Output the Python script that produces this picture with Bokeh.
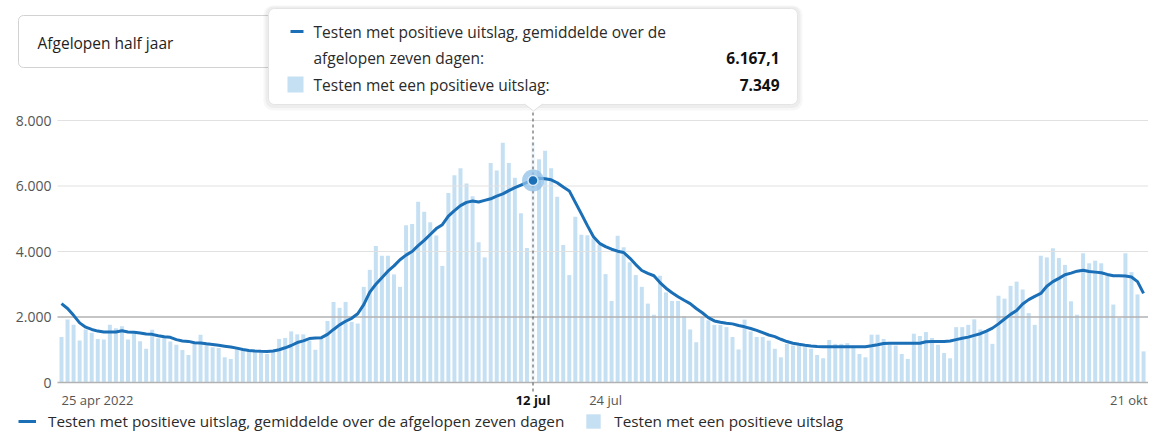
import pandas as pd
from bokeh.plotting import figure
from bokeh.models import Range1d, ColumnDataSource, Legend, LegendItem
from bokeh.core.properties import value
from bokeh.embed import file_html
from bokeh.resources import INLINE

# ---------------- data ----------------
start_date = "2022-04-25"

daily_positive = [
    1390, 1920, 1760, 1280, 1620, 1520, 1330, 1310, 1760, 1660,
    1720, 1310, 1490, 1260, 1030, 1610, 1350, 1390, 1250, 1150,
    990, 840, 1180, 1460, 1180, 1080, 1050, 770, 720, 1080,
    980, 960, 950, 920, 870, 980, 1330, 1360, 1560, 1470,
    1470, 1280, 1000, 1330, 1880, 2460, 2280, 2460, 1850, 1800,
    2920, 3440, 4170, 3870, 3870, 3300, 2920, 4800, 4840, 5520,
    5210, 4890, 4490, 3560, 5790, 6330, 6540, 6080, 5690, 4280,
    3820, 6700, 6470, 7320, 6700, 6250, 5170, 4110, 7349, 6820,
    7080, 6540, 5670, 4200, 3280, 5060, 4510, 4500, 4400, 4200,
    3310, 2490, 4480, 4130, 3670, 3280, 2920, 2410, 2070, 3260,
    2750, 2490, 2490, 2020, 1620, 1230, 2000, 1900, 1760, 1760,
    1690, 1390, 1010, 1920, 1560, 1390, 1390, 1280, 1030, 770,
    1180, 1130, 1130, 1080, 1030, 840, 740, 1300, 1180, 1180,
    1200, 1060, 870, 770, 1460, 1460, 1330, 1150, 1130, 870,
    720, 1490, 1420, 1540, 1360, 1150, 900, 740, 1690, 1690,
    1760, 1930, 1620, 1540, 1180, 2650, 2560, 2950, 3080, 2840,
    2120, 1760, 3870, 3820, 4100, 3800, 3590, 2480, 2070, 3950,
    3640, 3720, 3640, 3300, 2380, 1970, 3950, 3370, 2690, 950,
]

avg_7day = [
    2410, 2260, 2050, 1820, 1690, 1620, 1570, 1545, 1540, 1545,
    1580, 1545, 1535, 1510, 1480, 1470, 1430, 1395, 1380, 1310,
    1265, 1255, 1215, 1205, 1180, 1160, 1135, 1110, 1085, 1050,
    1010, 980, 965, 955, 950, 960, 1000, 1060, 1130, 1220,
    1270, 1340, 1360, 1370, 1470, 1620, 1760, 1870, 1960, 2100,
    2380, 2760, 3000, 3200, 3400, 3560, 3750, 3890, 4000, 4180,
    4340, 4520, 4700, 4820, 5080, 5250, 5400, 5500, 5540, 5510,
    5560, 5610, 5690, 5760, 5860, 5950, 6030, 6110, 6167.1, 6240,
    6220, 6190, 6100, 5970, 5850, 5500, 5150, 4790, 4450, 4250,
    4150, 4070, 4010, 3970, 3800, 3600, 3420, 3330, 3260, 3050,
    2880, 2740, 2620, 2510, 2410, 2260, 2130, 1980, 1880, 1840,
    1810, 1790, 1740, 1700, 1650, 1590, 1520, 1450, 1400, 1320,
    1250, 1200, 1165, 1135, 1115, 1100, 1095, 1095, 1095, 1095,
    1095, 1095, 1095, 1095, 1120, 1150, 1190, 1200, 1200, 1200,
    1200, 1200, 1200, 1245, 1250, 1250, 1250, 1265, 1310, 1350,
    1385, 1440, 1490, 1570, 1660, 1790, 1940, 2080, 2200, 2400,
    2530, 2630, 2720, 2940, 3080, 3180, 3290, 3340, 3400, 3430,
    3390, 3370, 3350, 3300, 3260, 3260, 3250, 3220, 3080, 2720,
]

series_names = [
    "Testen met positieve uitslag, gemiddelde over de afgelopen zeven dagen",
    "Testen met een positieve uitslag",
]
y_ticks = [0, 2000, 4000, 6000, 8000]
y_tick_labels = ["0", "2.000", "4.000", "6.000", "8.000"]
x_tick_dates = ["2022-04-25", "2022-07-12", "2022-07-24", "2022-10-21"]
x_tick_labels = ["25 apr 2022", "12 jul", "24 jul", "21 okt"]
hover_date = "2022-07-12"
period_label = "Afgelopen half jaar"
tooltip_avg_lines = ["Testen met positieve uitslag, gemiddelde over de", "afgelopen zeven dagen:"]
tooltip_bar_line = "Testen met een positieve uitslag:"

# ---------------- derived ----------------
t0 = pd.Timestamp(start_date)
dates = pd.date_range(start_date, periods=len(daily_positive), freq="D")
day = list(range(len(dates)))
tick_days = [(pd.Timestamp(d) - t0).days for d in x_tick_dates]
hi = (pd.Timestamp(hover_date) - t0).days


def nl(v, dec=0):
    s = f"{v:,.{dec}f}"
    return s.replace(",", "X").replace(".", ",").replace("X", ".")


# ---------------- styles / geometry ----------------
W, H = 1148, 431
X0, PXD = 61.0, 6.045      # canvas x of first day, px per day
Y0, PXV = 382.0, 0.03275   # canvas y of value 0, px per unit


def dx(px):
    return (px - X0) / PXD


def dy(py):
    return (Y0 - py) / PXV


BAR = "#c6e0f3"
BAR_HOVER = "#f1f8fd"
LINE = "#1a6fb6"
FONT = value("Open Sans")
grid_colors = ["#b2b2b2", "#b2b2b2", "#e1e1e1", "#e1e1e1", "#e1e1e1"]
grid_widths = [1.5, 1.5, 1, 1, 1]

p = figure(width=W, height=H,
           x_range=Range1d(dx(0), dx(W)), y_range=Range1d(dy(H), dy(0)),
           x_axis_type=None, y_axis_type=None,
           output_backend="svg", toolbar_location=None,
           min_border=0, outline_line_color=None)
p.background_fill_color = "white"
p.border_fill_color = "white"

# period selector box
p.quad(left=dx(18), right=dx(285), top=dy(15), bottom=dy(67),
       fill_color="white", line_color="#d2d2d2", line_width=1, border_radius=5)
p.text(x=[dx(37)], y=[dy(42)], text=[period_label], text_font=FONT,
       text_font_size="15.5px", text_color="#1e1e1e", text_baseline="middle")

# bars
bar_colors = [BAR_HOVER if i == hi else BAR for i in day]
src = ColumnDataSource(dict(day=day, pos=daily_positive, avg=avg_7day, color=bar_colors))
bars = p.vbar(x="day", top="pos", bottom=0, width=0.66, fill_color="color",
              line_color=None, source=src)

# grid lines
p.segment(x0=dx(57), x1=dx(1148), y0=y_ticks, y1=y_ticks,
          line_color=grid_colors, line_width=grid_widths)

# hover crosshair
p.segment(x0=[hi], x1=[hi], y0=[dy(391)], y1=[dy(110)],
          line_color="#4a4a4a", line_width=1, line_dash="3 3")

# 7-day average line
line_r = p.line("day", "avg", source=src, line_color=LINE, line_width=3,
                line_join="round")

# hover marker
p.scatter([hi], [avg_7day[hi]], size=22, fill_color="#8fc0e8", fill_alpha=0.75,
          line_color=None)
p.scatter([hi], [avg_7day[hi]], size=10, fill_color=LINE, line_color="#d3e7f7",
          line_width=1.5)

# y tick labels
p.text(x=[dx(51)] * len(y_ticks), y=y_ticks, text=y_tick_labels, text_font=FONT,
       text_font_size="14px", text_color="#555555", text_align="right",
       text_baseline="middle")

# x tick labels
xt = ColumnDataSource(dict(
    x=tick_days, text=x_tick_labels,
    align=["left", "center", "center", "right"],
    style=["normal", "bold", "normal", "normal"],
    color=["#555555", "#111111", "#555555", "#555555"],
    off=[0, 0, 0, 4],
))
p.text(x="x", y=dy(399), text="text", text_align="align", text_font_style="style",
       text_color="color", x_offset="off", text_font=FONT, text_font_size="13px",
       text_baseline="middle", source=xt)

# tooltip box
p.quad(left=dx(263), right=dx(802), top=dy(5), bottom=dy(110),
       fill_color="black", fill_alpha=0.03, line_color=None, border_radius=9)
p.quad(left=dx(265), right=dx(800), top=dy(6), bottom=dy(107.5),
       fill_color="black", fill_alpha=0.04, line_color=None, border_radius=8)
p.quad(left=dx(268), right=dx(797), top=dy(8), bottom=dy(104),
       fill_color="white", line_color="#e4e4e4", border_radius=6)
ptr_x = [dx(524), dx(533), dx(542)]
ptr_y = [dy(103.5), dy(110.5), dy(103.5)]
p.patch(x=ptr_x, y=ptr_y, fill_color="white", line_color=None)
p.line(x=ptr_x, y=ptr_y, line_color="#e0e0e0", line_width=1)

# tooltip contents
p.segment(x0=[dx(290)], x1=[dx(303)], y0=[dy(31)], y1=[dy(31)],
          line_color=LINE, line_width=3)
p.quad(left=[dx(287)], right=[dx(303)], top=[dy(76)], bottom=[dy(92)],
       fill_color=BAR, line_color=None)
p.text(x=[dx(313)] * 3, y=[dy(31), dy(57.5), dy(84)],
       text=[tooltip_avg_lines[0], tooltip_avg_lines[1], tooltip_bar_line],
       text_font=FONT, text_font_size="15.5px", text_color="#2a2a2a",
       text_baseline="middle")
p.text(x=[dx(779)] * 2, y=[dy(57.5), dy(84)],
       text=[nl(avg_7day[hi], 1), nl(daily_positive[hi])],
       text_font=FONT, text_font_size="15.5px", text_font_style="bold",
       text_color="#111111", text_align="right", text_baseline="middle")

# legend
legend = Legend(
    items=[LegendItem(label=series_names[0], renderers=[line_r]),
           LegendItem(label=series_names[1], renderers=[bars], index=0)],
    location=(18, 0), orientation="horizontal",
    glyph_width=18, glyph_height=18, label_height=18, label_standoff=12,
    spacing=20, padding=0, margin=0,
    border_line_color=None, background_fill_alpha=0,
    label_text_font="Open Sans", label_text_font_size="15.3px",
    label_text_color="#2a2a2a",
)
p.add_layout(legend)

open("out.html", "w").write(file_html(p, INLINE))
